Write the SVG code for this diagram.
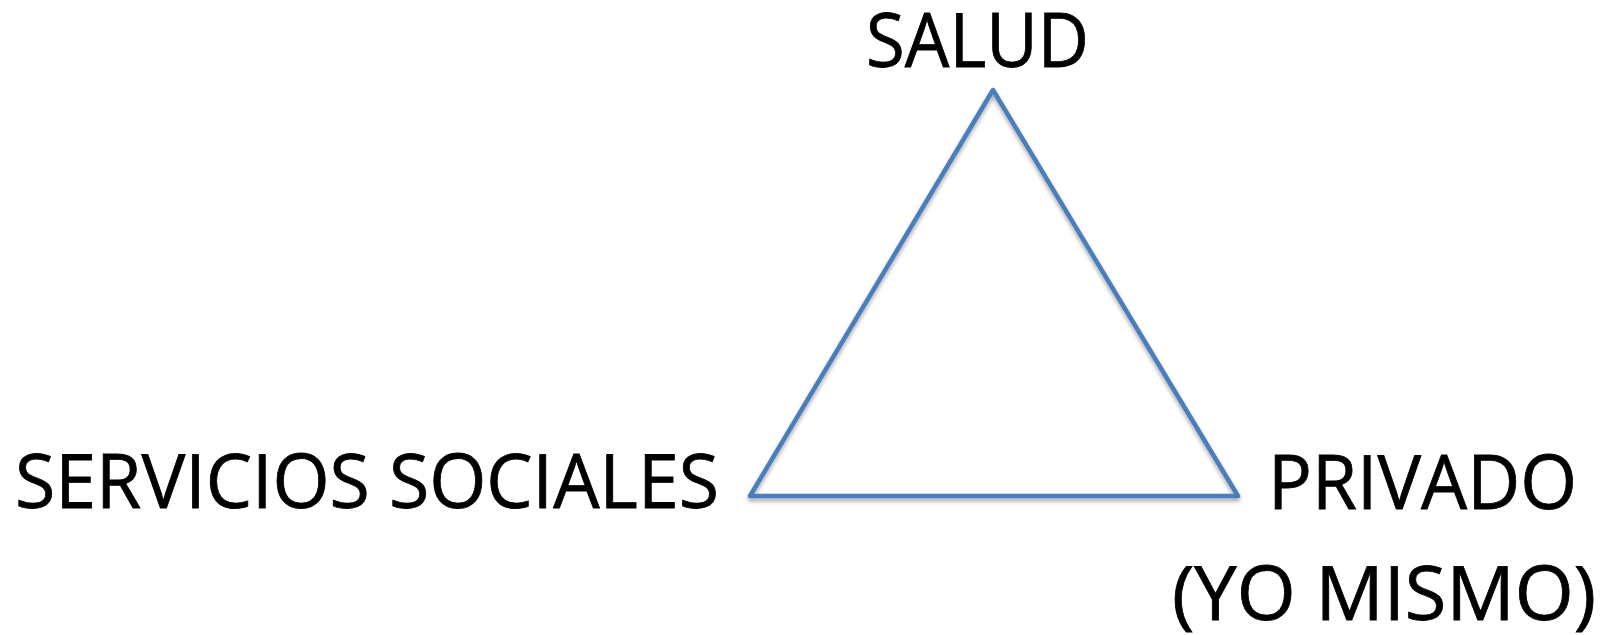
<svg xmlns="http://www.w3.org/2000/svg" width="1610" height="635" viewBox="0 0 1610 635">
<style>
.lbl{font-family:"Open Sans","Noto Sans","Liberation Sans",sans-serif;font-size:75px;fill:#000;stroke:#000;stroke-width:0.8}
.edge{fill:none;stroke:#4a7ebb;stroke-width:4.5;stroke-linejoin:round}
</style>
<defs>
<filter id="sh" x="-10%" y="-10%" width="120%" height="130%">
<feGaussianBlur in="SourceAlpha" stdDeviation="2"/>
<feOffset dx="0" dy="3" result="b"/>
<feComponentTransfer><feFuncA type="linear" slope="0.35"/></feComponentTransfer>
<feMerge><feMergeNode/><feMergeNode in="SourceGraphic"/></feMerge>
</filter>
</defs>
<rect width="1610" height="635" fill="#fff"/>
<g id="connectors" filter="url(#sh)">
<path class="edge" d="M993,90 L1238,496 L750,496 Z"/>
</g>
<g id="node-salud"><text class="lbl" x="866" y="67" textLength="223" lengthAdjust="spacingAndGlyphs">SALUD</text></g>
<g id="node-servicios"><text class="lbl" x="15" y="508" textLength="704" lengthAdjust="spacingAndGlyphs">SERVICIOS SOCIALES</text></g>
<g id="node-privado">
<text class="lbl" x="1268" y="509" textLength="309" lengthAdjust="spacingAndGlyphs">PRIVADO</text>
<text class="lbl" x="1172" y="620" textLength="424" lengthAdjust="spacingAndGlyphs">(YO MISMO)</text>
</g>
</svg>
